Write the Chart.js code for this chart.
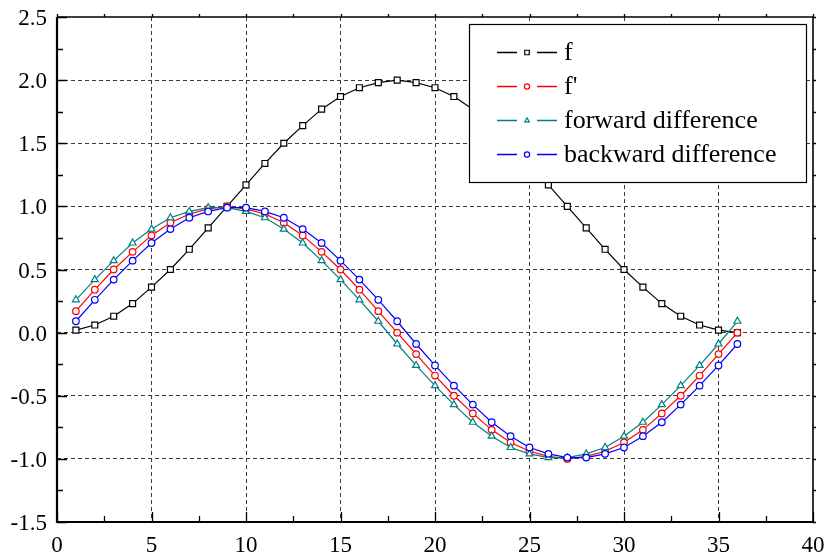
<!DOCTYPE html>
<html>
<head>
<meta charset="utf-8">
<script src="https://cdn.jsdelivr.net/npm/chart.js@4"></script>
<style>
  html, body { margin: 0; padding: 0; background: #fff; }
  #box { width: 827px; height: 558px; }
</style>
</head>
<body>
<div id="box"><canvas id="chartCanvas"></canvas></div>
<script>
'use strict';

// x positions (1..36)
const xValues = [1,2,3,4,5,6,7,8,9,10,11,12,13,14,15,16,17,18,19,20,21,22,23,24,25,26,27,28,29,30,31,32,33,34,35,36];

const fValues = [0.02,0.06,0.13,0.23,0.36,0.50,0.66,0.83,1.00,1.17,1.34,1.50,1.64,1.77,1.87,1.94,1.98,2.00,
                 1.98,1.94,1.87,1.77,1.64,1.50,1.34,1.17,1.00,0.83,0.66,0.50,0.36,0.23,0.13,0.06,0.02,0.00];

const dfValues = [0.17,0.34,0.50,0.64,0.77,0.87,0.94,0.98,1.00,0.98,0.94,0.87,0.77,0.64,0.50,0.34,0.17,0.00,
                  -0.17,-0.34,-0.50,-0.64,-0.77,-0.87,-0.94,-0.98,-1.00,-0.98,-0.94,-0.87,-0.77,-0.64,-0.50,-0.34,-0.17,0.00];

const forwardValues = [0.26,0.42,0.57,0.71,0.82,0.91,0.96,0.99,0.99,0.96,0.91,0.82,0.71,0.57,0.42,0.26,0.09,-0.09,
                       -0.26,-0.42,-0.57,-0.71,-0.82,-0.91,-0.96,-0.99,-0.99,-0.96,-0.91,-0.82,-0.71,-0.57,-0.42,-0.26,-0.09,0.09];

const backwardValues = [0.09,0.26,0.42,0.57,0.71,0.82,0.91,0.96,0.99,0.99,0.96,0.91,0.82,0.71,0.57,0.42,0.26,0.09,
                        -0.09,-0.26,-0.42,-0.57,-0.71,-0.82,-0.91,-0.96,-0.99,-0.99,-0.96,-0.91,-0.82,-0.71,-0.57,-0.42,-0.26,-0.09];

const seriesLabels = ["f", "f'", "forward difference", "backward difference"];

const xTickMin = 0, xTickMax = 40, xTickStep = 5;
const yTickMin = -1.5, yTickMax = 2.5, yTickStep = 0.5;

const FONT = "Liberation Serif";
Chart.defaults.font.family = FONT;

function toPoints(values){
    let pts = [];
    for(let i = 0; i < xValues.length; i++){
        pts.push({x: xValues[i], y: values[i]});
    }
    return pts;
}

function makeSet(label, values, color, style, radius, order){
    return {
        label: label,
        data: toPoints(values),
        showLine: true,
        borderColor: color,
        borderWidth: 1.2,
        pointStyle: style,
        pointRadius: radius,
        pointHoverRadius: radius,
        pointBorderColor: color,
        pointBackgroundColor: '#ffffff',
        pointBorderWidth: 1.2,
        tension: 0,
        order: order
    };
}

const datasets = [
    makeSet(seriesLabels[0], fValues, '#000000', 'rect', 4.2, 4),
    makeSet(seriesLabels[1], dfValues, '#ff0000', 'circle', 3.3, 3),
    makeSet(seriesLabels[2], forwardValues, '#008080', 'triangle', 4, 2),
    makeSet(seriesLabels[3], backwardValues, '#0000ff', 'circle', 3.3, 1)
];

// frame + ticks: inward on left/bottom, short outward on top/right, plus tick labels
const framePlugin = {
    id: 'frame',
    afterDatasetsDraw(chart){
        const ctx = chart.ctx;
        const a = chart.chartArea;
        const xs = chart.scales.x, ys = chart.scales.y;
        ctx.save();
        ctx.strokeStyle = '#000';
        ctx.lineWidth = 1.3;
        ctx.beginPath();
        for(let v = xTickMin; v <= xTickMax + 1e-9; v += xTickStep / 2){
            const px = Math.round(xs.getPixelForValue(v)) + 0.5;
            const len = (Math.abs(v / xTickStep - Math.round(v / xTickStep)) < 1e-6) ? 10 : 6;
            ctx.moveTo(px, a.bottom); ctx.lineTo(px, a.bottom - len);
            ctx.moveTo(px, a.top); ctx.lineTo(px, a.top - 3);
        }
        for(let v = yTickMin; v <= yTickMax + 1e-9; v += yTickStep / 2){
            const py = Math.round(ys.getPixelForValue(v)) + 0.5;
            const len = (Math.abs(v / yTickStep - Math.round(v / yTickStep)) < 1e-6) ? 10 : 6;
            ctx.moveTo(a.left, py); ctx.lineTo(a.left + len, py);
            ctx.moveTo(a.right, py); ctx.lineTo(a.right + 3, py);
        }
        ctx.stroke();
        ctx.lineWidth = 1.6;
        ctx.beginPath();
        ctx.moveTo(a.left, a.top); ctx.lineTo(a.right, a.top); ctx.lineTo(a.right, a.bottom);
        ctx.stroke();
        ctx.lineWidth = 2.2;
        ctx.beginPath();
        ctx.moveTo(a.left, a.top); ctx.lineTo(a.left, a.bottom); ctx.lineTo(a.right, a.bottom);
        ctx.stroke();

        // tick labels
        ctx.fillStyle = '#000';
        ctx.font = '23px ' + FONT;
        ctx.textBaseline = 'alphabetic';
        ctx.textAlign = 'center';
        xs.ticks.forEach(function(t){
            ctx.fillText(String(t.value), xs.getPixelForValue(t.value), a.bottom + 30);
        });
        ctx.textAlign = 'right';
        ys.ticks.forEach(function(t){
            ctx.fillText(Number(t.value).toFixed(1), a.left - 10, ys.getPixelForValue(t.value) + 8);
        });
        ctx.restore();
    }
};

// legend box inside the plot, top right
const legendPlugin = {
    id: 'boxLegend',
    afterDraw(chart){
        const ctx = chart.ctx;
        const a = chart.chartArea;
        const left = a.right - 344, top = a.top + 7, w = 337, h = 158;
        ctx.save();
        ctx.fillStyle = '#fff';
        ctx.fillRect(left, top, w, h);
        ctx.strokeStyle = '#000';
        ctx.lineWidth = 1.2;
        ctx.strokeRect(left + 0.5, top + 0.5, w, h);
        ctx.restore();

        for(let i = 0; i < chart.data.datasets.length; i++){
            const ds = chart.data.datasets[i];
            const y = Math.round(top + 28 + i * 34) + 0.5;
            const x0 = left + 28;

            ctx.save();
            ctx.strokeStyle = ds.borderColor;
            ctx.lineWidth = 1.5;
            ctx.beginPath();
            ctx.moveTo(x0, y); ctx.lineTo(x0 + 20, y);
            ctx.moveTo(x0 + 40, y); ctx.lineTo(x0 + 60, y);
            ctx.stroke();
            ctx.restore();

            ctx.save();
            ctx.fillStyle = '#fff';
            ctx.strokeStyle = ds.borderColor;
            ctx.lineWidth = 1.2;
            Chart.helpers.drawPoint(ctx, {
                pointStyle: ds.pointStyle,
                radius: ds.pointStyle === 'rect' ? 3.2 : 2.6,
                borderWidth: 1.2,
                rotation: 0
            }, x0 + 30, y);
            ctx.restore();

            ctx.save();
            ctx.font = '26px ' + FONT;
            ctx.textBaseline = 'middle';
            ctx.textAlign = 'left';
            ctx.fillStyle = '#000';
            ctx.fillText(ds.label, x0 + 67, y + 1);
            ctx.restore();
        }
    }
};

function edgeColor(ctx, lo, hi){
    const v = ctx.tick ? ctx.tick.value : null;
    if(v === null || Math.abs(v - lo) < 1e-6 || Math.abs(v - hi) < 1e-6) return 'rgba(0,0,0,0)';
    return '#3a3a3a';
}

const ctx = document.getElementById('chartCanvas').getContext('2d');
window.myChart = new Chart(ctx, {
    type: 'scatter',
    data: { datasets: datasets },
    options: {
        responsive: true,
        maintainAspectRatio: false,
        animation: false,
        events: [],
        layout: { padding: { left: 0, top: 17, right: 14, bottom: 0 } },
        plugins: {
            legend: { display: false },
            tooltip: { enabled: false }
        },
        scales: {
            x: {
                type: 'linear',
                min: xTickMin,
                max: xTickMax,
                afterFit: function(scale){
                    scale.height = 36;
                    scale.paddingLeft = 0; scale.paddingRight = 0;
                },
                border: { display: false, dash: [4, 3] },
                grid: {
                    drawTicks: false,
                    lineWidth: 1,
                    color: function(c){ return edgeColor(c, xTickMin, xTickMax); }
                },
                ticks: {
                    display: false,
                    stepSize: xTickStep,
                    font: { family: FONT, size: 23 }
                }
            },
            y: {
                type: 'linear',
                min: yTickMin,
                max: yTickMax,
                afterFit: function(scale){
                    scale.width = 57;
                    scale.paddingTop = 0; scale.paddingBottom = 0;
                },
                border: { display: false, dash: [4, 3] },
                grid: {
                    drawTicks: false,
                    lineWidth: 1,
                    color: function(c){ return edgeColor(c, yTickMin, yTickMax); }
                },
                ticks: {
                    display: false,
                    stepSize: yTickStep,
                    font: { family: FONT, size: 23 }
                }
            }
        }
    },
    plugins: [framePlugin, legendPlugin]
});
</script>
</body>
</html>
